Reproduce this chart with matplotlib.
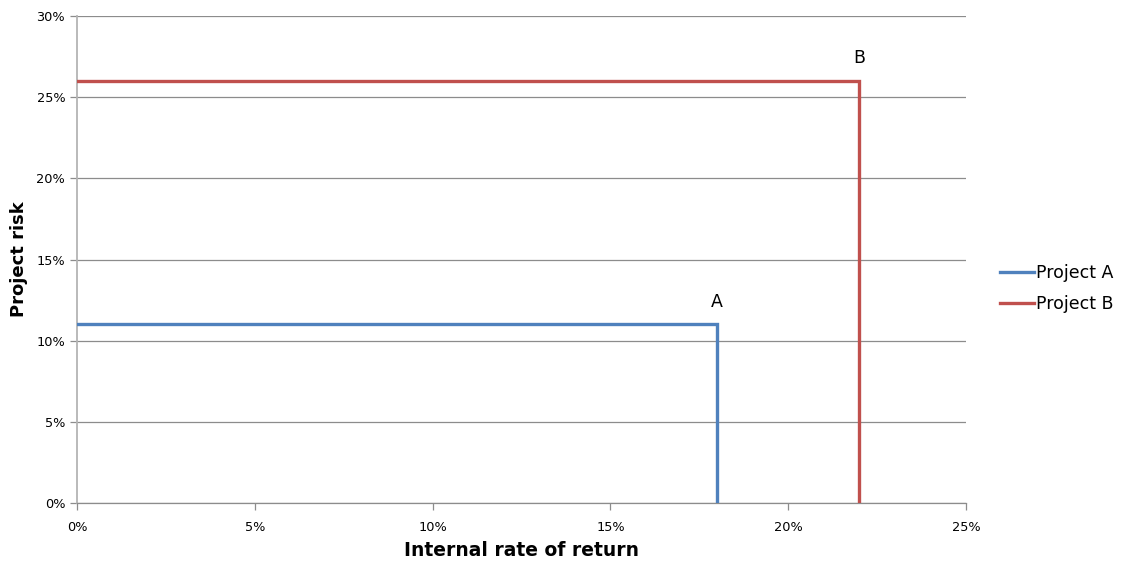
import matplotlib.pyplot as plt
from matplotlib.ticker import FuncFormatter

# Project data (percent)
projects = ["Project A", "Project B"]
irr = [18, 22]          # internal rate of return
risk = [11, 26]         # project risk
tags = ["A", "B"]
colors = ["#4F81BD", "#C0504D"]

x_ticks = [0, 5, 10, 15, 20, 25]
y_ticks = [0, 5, 10, 15, 20, 25, 30]

fig = plt.figure(figsize=(11.25, 5.62), dpi=100)
ax = fig.add_axes([0.0684, 0.105, 0.7903, 0.8665])

for name, r, k, tag, c in zip(projects, irr, risk, tags, colors):
    # horizontal run from the risk axis, then drop to zero at the IRR
    ax.plot([0, r, r], [k, k, 0], color=c, lw=2.4, label=name,
            solid_joinstyle="miter", zorder=3)
    ax.annotate(tag, (r, k), xytext=(0, 10), textcoords="offset points",
                ha="center", va="bottom", fontsize=12.5)

ax.set_xlim(0, 25)
ax.set_ylim(0, 30)
ax.set_xticks(x_ticks)
ax.set_yticks(y_ticks)
pct = FuncFormatter(lambda v, _: f"{v:.0f}%")
ax.xaxis.set_major_formatter(pct)
ax.yaxis.set_major_formatter(pct)

ax.grid(axis="y", color="#8c8c8c", lw=0.9)
ax.set_axisbelow(True)
for side in ["top", "right"]:
    ax.spines[side].set_visible(False)
ax.spines["left"].set_color("#b4b4b4")
ax.spines["left"].set_linewidth(1.3)
ax.spines["bottom"].set_color("#8c8c8c")
ax.spines["bottom"].set_linewidth(0.9)
ax.tick_params(axis="both", colors="#8c8c8c", labelcolor="black",
               labelsize=9.3, length=5, width=0.9)
ax.tick_params(axis="x", pad=8)

ax.set_xlabel("Internal rate of return", fontsize=13.5, fontweight="bold",
              labelpad=5)
ax.set_ylabel("Project risk", fontsize=13, fontweight="bold", labelpad=6)

ax.legend(loc="center left", bbox_to_anchor=(1.03, 0.441), frameon=False,
          fontsize=12.5, handlelength=2.0, handletextpad=0.1,
          labelspacing=0.75, borderaxespad=0)

fig.savefig("out.png", dpi=100)
